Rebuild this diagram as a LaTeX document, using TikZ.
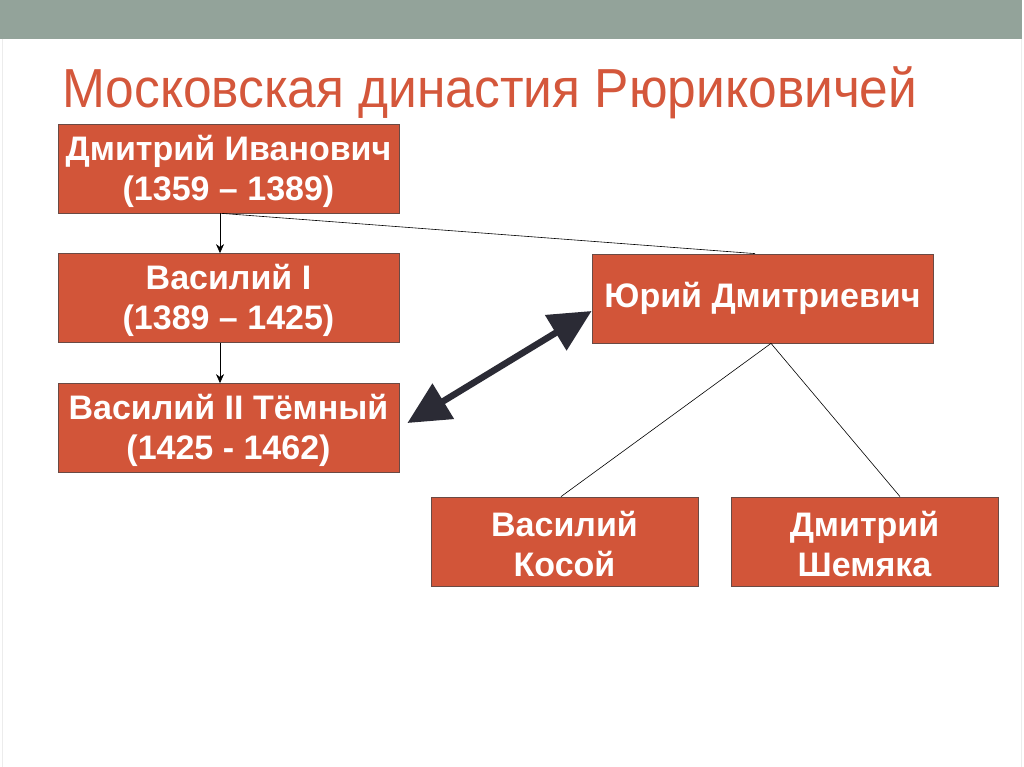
\documentclass[tikz,border=0pt]{standalone}
\usepackage{fontspec}
\setmainfont{Liberation Sans}
\usetikzlibrary{arrows.meta}
\definecolor{barGray}{HTML}{93A39A}
\definecolor{titleRed}{HTML}{D4573B}
\definecolor{boxRed}{HTML}{D25539}
\definecolor{boxEdge}{HTML}{6A4A44}
\definecolor{arrowDark}{HTML}{2B2B35}
\definecolor{edgeGray}{HTML}{ECECEC}
\newcommand{\lowerstrut}{\rule{0pt}{31pt}}
\begin{document}
\begin{tikzpicture}[x=1pt,y=-1pt,
  person/.style={draw=boxEdge, line width=0.8pt, fill=boxRed, text=white,
    font=\bfseries\fontsize{34}{40}\selectfont, align=center, inner sep=0pt,
    minimum width=341pt, minimum height=89pt},
  cadet/.style={person, minimum width=267pt},
  kin/.style={draw=black, line width=0.6pt},
  descent/.style={kin, -{Stealth[length=9pt,width=8pt]}},
  rivalry/.style={draw=arrowDark, line width=6.5pt,
    {Triangle[length=42pt,width=40pt]}-{Triangle[length=42pt,width=40pt]}}
]
\useasboundingbox (0,0) rectangle (1024,767);
\fill[white] (0,0) rectangle (1024,767);
\fill[barGray] (0,0) rectangle (1022,39);
\draw[edgeGray, line width=1pt] (2,39) -- (2,767);
\draw[edgeGray, line width=1pt] (1021.5,39) -- (1021.5,767);

\node[anchor=base west, inner sep=0pt, text=titleRed,
  font=\fontsize{55}{60}\selectfont] (title) at (62,108)
  {\scalebox{0.936}[1]{Московская династия Рюриковичей}};

\node[person] (dmitry) at (228.5,168.5) {\lowerstrut Дмитрий Иванович\\(1359 – 1389)};
\node[person] (vas1) at (228.5,298) {\lowerstrut Василий I\\(1389 – 1425)};
\node[person] (vas2) at (228.5,428) {\lowerstrut Василий II Тёмный\\(1425 - 1462)};
\node[person] (yuri) at (762.5,298.5) {Юрий Дмитриевич};
\node[cadet] (kosoy) at (564.5,541.5) {\lowerstrut Василий\\Косой};
\node[cadet] (shem) at (864.5,541.5) {\lowerstrut Дмитрий\\Шемяка};

\draw[descent] ([xshift=-8.5pt]dmitry.south) -- ([xshift=-8.5pt]vas1.north);
\draw[descent] ([xshift=-8.5pt]vas1.south) -- ([xshift=-8.5pt]vas2.north);
\draw[kin] ([xshift=-6.5pt]dmitry.south) -- ([xshift=-7.5pt]yuri.north);
\draw[kin] ([xshift=8.5pt]yuri.south) -- ([xshift=-3.5pt]kosoy.north);
\draw[kin] ([xshift=8.5pt]yuri.south) -- ([xshift=35.5pt]shem.north);
\draw[rivalry] ([shift={(8,-5)}]vas2.east) -- ([yshift=-12.5pt]yuri.west);
\end{tikzpicture}
\end{document}
